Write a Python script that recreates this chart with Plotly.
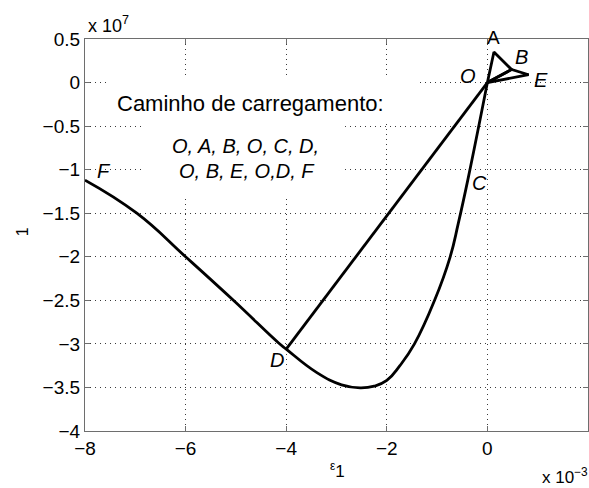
import plotly.graph_objects as go

# Units: strain in 1e-3, stress in 1e7
vertex_names = ["O", "A", "B", "E", "D"]
vertex_strain = [0.0, 0.13, 0.48, 0.82, -4.0]
vertex_stress = [0.0, 0.35, 0.15, 0.09, -3.06]

# Straight legs of the loading path
straight_legs = [["O", "A", "B", "O"], ["D", "O"], ["O", "B", "E", "O"]]

# Curved branch O -> C -> D (through the stress minimum)
branch_ocd_strain = [0.0, -0.39, -0.58, -0.74, -1.05, -1.45, -1.74, -2.0, -2.25, -2.53, -2.9, -3.39, -4.0]
branch_ocd_stress = [0.0, -1.12, -1.62, -2.0, -2.5, -3.0, -3.25, -3.42, -3.485, -3.505, -3.47, -3.33, -3.06]

# Curved branch D -> F
branch_df_strain = [-4.0, -4.15, -5.05, -6.0, -6.97, -8.0]
branch_df_stress = [-3.06, -2.99, -2.5, -2.0, -1.5, -1.12]

x_ticks = [-8, -6, -4, -2, 0, 2]
y_ticks = [0.5, 0, -0.5, -1, -1.5, -2, -2.5, -3, -3.5, -4]

FONT = "Liberation Sans, Arial, Helvetica, sans-serif"
LINE = dict(color="black", width=2.8)

vx = dict(zip(vertex_names, vertex_strain))
vy = dict(zip(vertex_names, vertex_stress))

fig = go.Figure()

# Smooth stress-strain branch O ... C ... D ... F
fig.add_trace(go.Scatter(
    x=branch_ocd_strain + branch_df_strain[1:],
    y=branch_ocd_stress + branch_df_stress[1:],
    mode="lines", line=dict(shape="spline", smoothing=1.3, **LINE),
    showlegend=False, hoverinfo="skip",
))

for leg in straight_legs:
    fig.add_trace(go.Scatter(
        x=[vx[n] for n in leg], y=[vy[n] for n in leg],
        mode="lines", line=LINE, showlegend=False, hoverinfo="skip",
    ))

axis_common = dict(
    showline=True, linecolor="#6e6e6e", linewidth=1.2, mirror="allticks",
    ticks="inside", ticklen=5, tickcolor="#6e6e6e",
    showgrid=True, gridcolor="#3a3a3a", griddash="1.2px,3.8px", gridwidth=1,
    zeroline=False,
    tickfont=dict(family=FONT, size=19, color="black"),
)

fig.update_xaxes(range=[-8, 2], tickvals=x_ticks,
                 ticktext=[("%g" % v).replace("-", "\u2212") for v in x_ticks],
                 **axis_common)
fig.update_yaxes(range=[-4, 0.5], tickvals=y_ticks,
                 ticktext=[("%g" % v).replace("-", "\u2212") for v in y_ticks],
                 **axis_common)

# White backing boxes behind the caption text
fig.add_shape(type="rect", xref="x", yref="y", x0=-7.56, x1=-1.38, y0=-0.435, y1=0.058,
              fillcolor="white", line=dict(width=0), layer="above")
fig.add_shape(type="rect", xref="x", yref="y", x0=-6.87, x1=-2.83, y0=-1.30, y1=-0.435,
              fillcolor="white", line=dict(width=0), layer="above")

annotations = [
    dict(text="Caminho de carregamento:", x=-7.40, y=-0.24, xanchor="left", yanchor="middle",
         font=dict(size=22)),
    dict(text="<i>O, A, B, O, C, D,</i>", x=-4.80, y=-0.73, font=dict(size=20)),
    dict(text="<i>O, B, E, O,D, F</i>", x=-4.78, y=-1.02, font=dict(size=20)),
    dict(text="<i>B</i>", x=0.68, y=0.29, font=dict(size=20)),
    dict(text="<i>O</i>", x=-0.38, y=0.08, font=dict(size=20)),
    dict(text="<i>E</i>", x=1.07, y=0.03, font=dict(size=20)),
    dict(text="<i>C</i>", x=-0.16, y=-1.15, font=dict(size=20)),
    dict(text="<i>D</i>", x=-4.19, y=-3.18, font=dict(size=20)),
    dict(text="<i>F</i>", x=-7.62, y=-1.02, font=dict(size=20)),
]
for a in annotations:
    a.setdefault("xref", "x")
    a.setdefault("yref", "y")
    a.setdefault("showarrow", False)
    a["font"] = dict(family=FONT, color="black", **a["font"])
    fig.add_annotation(**a)

# Paper-positioned texts (pixel positions of the plot frame: left 85, bottom 431)
PW, PH = 503.0, 392.5


def px(x):
    return (x - 85) / PW


def py(y):
    return (431 - y) / PH


paper_texts = [
    dict(text="A", x=px(493), y=py(37), font=dict(size=19)),
    dict(text="<sup>\u03b5</sup>1", x=px(337), y=py(470), font=dict(size=17)),
    dict(text="x 10<sup>\u22123</sup>", x=px(565), y=py(476), font=dict(size=17)),
    dict(text="x 10<sup>7</sup>", x=px(108), y=py(24), font=dict(size=18)),
    dict(text="1", x=px(22), y=py(232), textangle=-90, font=dict(size=16)),
]
for a in paper_texts:
    a["font"] = dict(family=FONT, color="black", **a["font"])
    fig.add_annotation(xref="paper", yref="paper", xanchor="center", yanchor="middle",
                       showarrow=False, **a)

fig.update_layout(
    width=589, height=488,
    margin=dict(l=85, r=1, t=39, b=57),
    plot_bgcolor="white", paper_bgcolor="white",
    font=dict(family=FONT, color="black"),
)

fig.write_html("out.html")
